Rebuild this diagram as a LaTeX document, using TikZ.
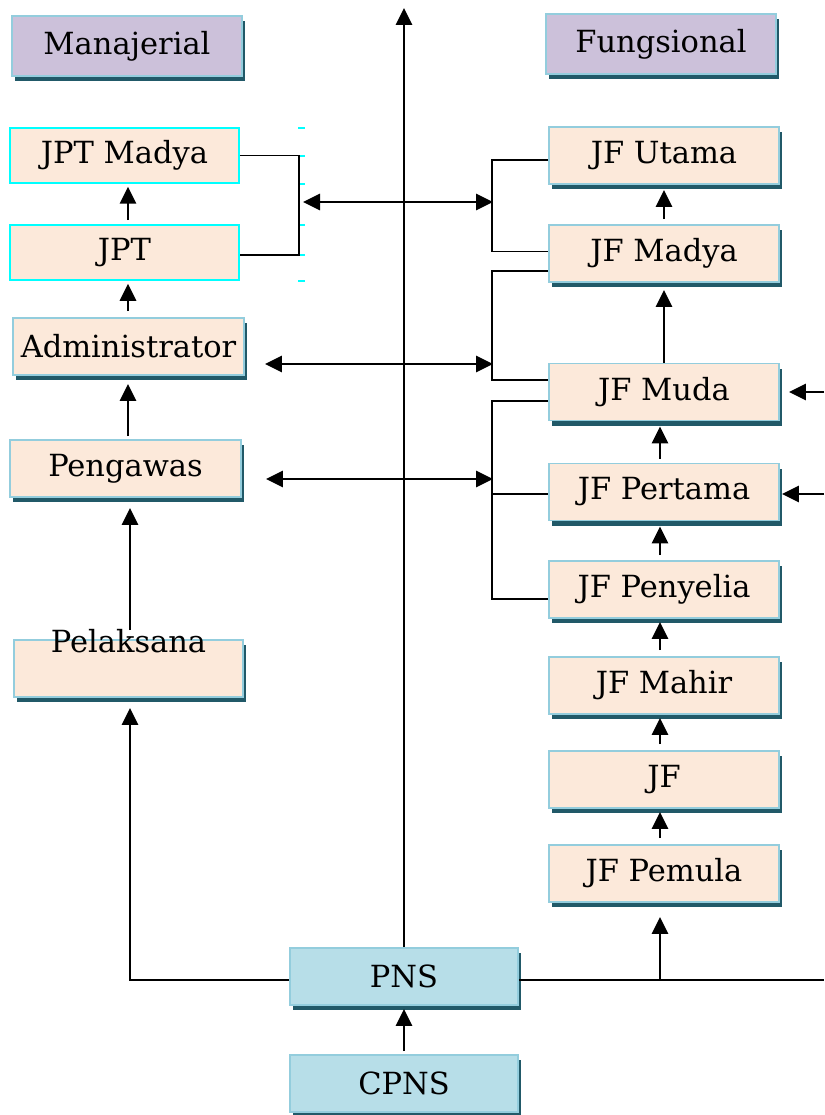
\documentclass[tikz,border=0pt]{standalone}
\usepackage{fontspec}
\setmainfont{DejaVu Serif}
\usetikzlibrary{arrows.meta,shadows}
\definecolor{peach}{HTML}{FCE9DA}
\definecolor{lav}{HTML}{CCC1DA}
\definecolor{bord}{HTML}{93CDDD}
\definecolor{shad}{HTML}{215968}
\definecolor{pnsfill}{HTML}{B7DEE8}
\definecolor{cyanb}{HTML}{00FFFF}
\begin{document}
\begin{tikzpicture}[x=1pt,y=-1pt,
  boxbase/.style={draw=bord, line width=1.8pt, inner sep=0pt, text=black,
    minimum width=230pt, minimum height=57pt, font=\fontsize{30.5}{32}\selectfont},
  box/.style={boxbase, fill=peach,
    drop shadow={shadow xshift=3pt, shadow yshift=-5pt, fill=shad, opacity=1}},
  headbox/.style={boxbase, fill=lav, minimum height=60pt,
    drop shadow={shadow xshift=3pt, shadow yshift=-5pt, fill=shad, opacity=1}},
  pnsbox/.style={boxbase, fill=pnsfill,
    drop shadow={shadow xshift=3pt, shadow yshift=-5pt, fill=shad, opacity=1}},
  jptbox/.style={boxbase, draw=cyanb, fill=peach, line width=1.5pt, minimum height=55pt, minimum width=229pt},
  txt/.style={inner sep=0pt, font=\fontsize{30.5}{32}\selectfont},
  arr/.style={line width=2.7pt, -{Triangle[length=17pt,width=16pt]}},
  darr/.style={line width=2.7pt, {Triangle[length=17pt,width=16pt]}-{Triangle[length=17pt,width=16pt]}},
  conn/.style={line width=2.4pt},
  brk/.style={line width=1.9pt},
  tick/.style={draw=cyanb, line width=1.5pt}
]
\useasboundingbox (0,0) rectangle (824,1115);

% headers
\node[headbox] (man) at (127,46) {Manajerial};
\node[headbox] (fung) at (661,44) {Fungsional};

% left column
\node[jptbox] (jptm) at (124.5,155.5) {JPT Madya};
\node[jptbox] (jpt) at (124.5,252.5) {JPT};
\node[box, minimum width=231pt] (adm) at (128.5,346.5) {Administrator};
\node[box, minimum width=231pt] (peng) at (125.5,468.5) {Pengawas};
\node[box, minimum width=229pt] (pel) at (128.5,668.5) {};
\node[txt] (pelt) at (128.5,641) {Pelaksana};

% right column
\node[box] (ut) at (664,155.5) {JF Utama};
\node[box] (mad) at (664,253.5) {JF Madya};
\node[box] (muda) at (664,392) {JF Muda};
\node[box] (pert) at (664,492) {JF Pertama};
\node[box] (peny) at (664,589.5) {JF Penyelia};
\node[box] (mahir) at (664,685.5) {JF Mahir};
\node[box] (jf) at (664,779.5) {JF};
\node[box] (pem) at (664,873.5) {JF Pemula};

% centre
\node[pnsbox, minimum width=228pt] (pns) at (404,976.5) {PNS};
\node[pnsbox, minimum width=228pt] (cpns) at (404,1083.5) {CPNS};

% coordinates for free ends
\coordinate (top) at (404,8);
\coordinate (pr) at (824,980);
\coordinate (br) at (660,980);
\coordinate (rm) at (824,392);
\coordinate (rp) at (824,494);
\coordinate (dl1) at (298,202);
\coordinate (dr1) at (493,202);
\coordinate (dr2) at (493,364);
\coordinate (dr3) at (493,479);
\coordinate (bx3) at (493,494);

% cyan ticks
\foreach \yy in {128,156,184,225,255,281} \draw[tick] (298,\yy) -- (305,\yy);

% left column arrows
\draw[arr, shorten <=4pt, shorten >=3pt] ([xshift=3.5pt]jpt.north) -- ([xshift=3.5pt]jptm.south);
\draw[arr, shorten <=6pt, shorten >=3pt] ([xshift=-0.5pt]adm.north) -- ([xshift=3.5pt]jpt.south);
\draw[arr, shorten <=3pt, shorten >=8pt] ([xshift=2.5pt]peng.north) -- ([xshift=-0.5pt]adm.south);
\draw[arr, shorten <=-1pt, shorten >=10pt] ([xshift=1.5pt]pelt.north) -- ([xshift=4.5pt]peng.south);
\draw[arr, shorten >=10pt] ([yshift=-3.5pt]pns.west) -| ([xshift=1.5pt]pel.south);

% centre arrows
\draw[arr] (pns.north) -- (top);
\draw[arr, shorten <=3pt, shorten >=3pt] (cpns.north) -- (pns.south);
\draw[conn] ([yshift=-3.5pt]pns.east) -- (pr);
\draw[arr, shorten >=14pt] (br) -- (br |- pem.south);

% right column arrows
\draw[arr, shorten <=5pt, shorten >=5pt] (mad.north) -- (ut.south);
\draw[arr, shorten >=7pt] (muda.north) -- (mad.south);
\draw[arr, shorten <=4pt, shorten >=5pt] ([xshift=-4pt]pert.north) -- ([xshift=-4pt]muda.south);
\draw[arr, shorten <=5pt, shorten >=5pt] ([xshift=-4pt]peny.north) -- ([xshift=-4pt]pert.south);
\draw[arr, shorten <=6pt, shorten >=3pt] ([xshift=-4pt]mahir.north) -- ([xshift=-4pt]peny.south);
\draw[arr, shorten <=6pt, shorten >=3pt] ([xshift=-4pt]jf.north) -- ([xshift=-4pt]mahir.south);
\draw[arr, shorten <=6pt, shorten >=3pt] ([xshift=-4pt]pem.north) -- ([xshift=-4pt]jf.south);
\draw[arr, shorten >=9pt] (rm) -- (rm -| muda.east);
\draw[arr, shorten >=2pt] (rp) -- (rp -| pert.east);

% brackets
\draw[brk] (jptm.east) -- ++(59,0) |- ([yshift=-2.5pt]jpt.east);
\draw[brk] ([yshift=-4.5pt]ut.west) -- ++(-56,0) |- ([yshift=2pt]mad.west);
\draw[brk] ([yshift=-17.5pt]mad.west) -- ++(-56,0) |- ([yshift=12pt]muda.west);
\draw[brk] ([yshift=-9pt]muda.west) -- ++(-56,0) |- ([yshift=-9.5pt]peny.west);
\draw[brk] (bx3) -- (bx3 -| pert.west);

% double arrows
\draw[darr, shorten <=5pt] (dl1) -- (dr1);
\draw[darr, shorten <=20pt] ([yshift=-17.5pt]adm.east) -- (dr2);
\draw[darr, shorten <=24pt] ([yshift=-10.5pt]peng.east) -- (dr3);
\end{tikzpicture}
\end{document}
